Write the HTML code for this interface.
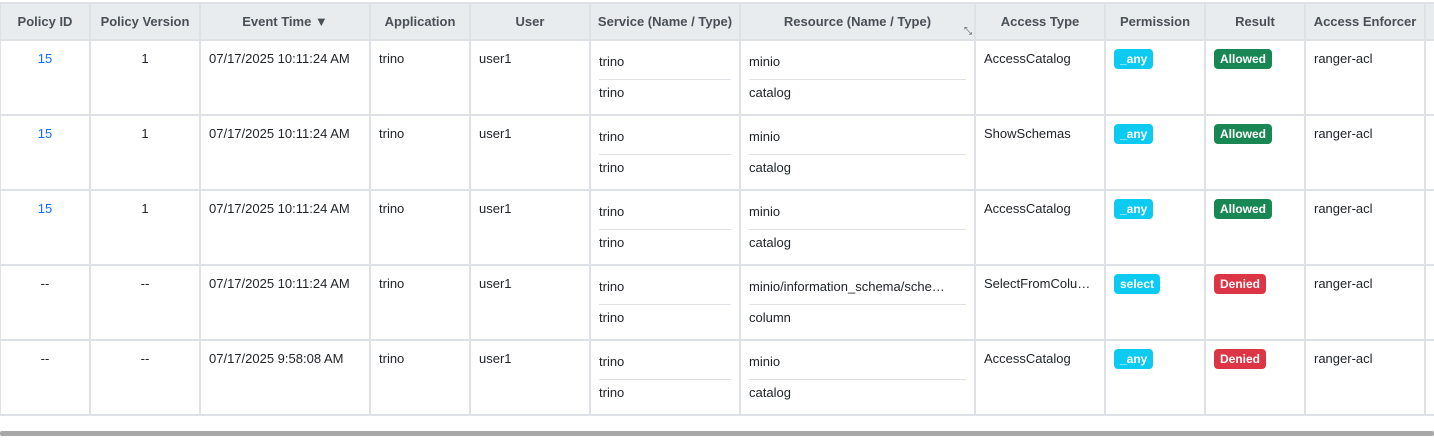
<!DOCTYPE html>
<html><head><meta charset="utf-8"><style>
body{margin:0;width:1434px;height:444px;overflow:hidden;background:#fff;font-family:"Liberation Sans",sans-serif;position:relative}
table{position:absolute;left:-1px;top:2px;border-collapse:collapse;table-layout:fixed;width:1445px}
td,th{border:2px solid #dee2e6;padding:0;vertical-align:top;font-size:13px;color:#212529;overflow:hidden;white-space:nowrap}
th{background:#e9ecef;color:#495057;font-weight:bold;height:35px;vertical-align:middle;text-align:center;position:relative}
tr.r td{height:73px}
td.c{text-align:center}
td .t{padding:10px 8px 0 8px;line-height:16px}
a{color:#0d6efd;text-decoration:none}
.s{padding:0 8px}
.s div{line-height:16px}
.s .a{padding-top:13px;padding-bottom:9px;border-bottom:1px solid #dee2e6;overflow:hidden;text-overflow:ellipsis}
.s .b{padding-top:5px}
.bd{display:inline-block;margin:8px 0 0 8px;padding:2px 6px;border-radius:4px;color:#fff;font-weight:bold;font-size:12px;line-height:16px}
.any{background:#0dcaf0}.al{background:#198754}.de{background:#dc3545}
.sb{position:absolute;left:0;top:431px;width:1434px;height:5px;background:#a8a8a8;border-radius:2px}
</style></head><body>
<table>
<colgroup><col style="width:90px"><col style="width:110px"><col style="width:170px"><col style="width:100px"><col style="width:120px"><col style="width:150px"><col style="width:235px"><col style="width:130px"><col style="width:100px"><col style="width:100px"><col style="width:120px"><col style="width:20px"></colgroup>
<tr><th>Policy ID</th><th>Policy Version</th><th>Event Time ▼</th><th>Application</th><th>User</th><th>Service (Name / Type)</th><th>Resource (Name / Type)<span style="position:absolute;right:2px;bottom:2px;font-size:10px;font-weight:normal">⤡</span></th><th>Access Type</th><th>Permission</th><th>Result</th><th>Access Enforcer</th><th></th></tr>
<tr class="r"><td class="c"><div class="t"><a>15</a></div></td><td class="c"><div class="t">1</div></td><td><div class="t">07/17/2025 10:11:24 AM</div></td><td><div class="t">trino</div></td><td><div class="t">user1</div></td><td><div class="s"><div class="a">trino</div><div class="b">trino</div></div></td><td><div class="s"><div class="a">minio</div><div class="b">catalog</div></div></td><td><div class="t">AccessCatalog</div></td><td><span class="bd any">_any</span></td><td><span class="bd al">Allowed</span></td><td><div class="t">ranger-acl</div></td><td></td></tr>
<tr class="r"><td class="c"><div class="t"><a>15</a></div></td><td class="c"><div class="t">1</div></td><td><div class="t">07/17/2025 10:11:24 AM</div></td><td><div class="t">trino</div></td><td><div class="t">user1</div></td><td><div class="s"><div class="a">trino</div><div class="b">trino</div></div></td><td><div class="s"><div class="a">minio</div><div class="b">catalog</div></div></td><td><div class="t">ShowSchemas</div></td><td><span class="bd any">_any</span></td><td><span class="bd al">Allowed</span></td><td><div class="t">ranger-acl</div></td><td></td></tr>
<tr class="r"><td class="c"><div class="t"><a>15</a></div></td><td class="c"><div class="t">1</div></td><td><div class="t">07/17/2025 10:11:24 AM</div></td><td><div class="t">trino</div></td><td><div class="t">user1</div></td><td><div class="s"><div class="a">trino</div><div class="b">trino</div></div></td><td><div class="s"><div class="a">minio</div><div class="b">catalog</div></div></td><td><div class="t">AccessCatalog</div></td><td><span class="bd any">_any</span></td><td><span class="bd al">Allowed</span></td><td><div class="t">ranger-acl</div></td><td></td></tr>
<tr class="r"><td class="c"><div class="t">--</div></td><td class="c"><div class="t">--</div></td><td><div class="t">07/17/2025 10:11:24 AM</div></td><td><div class="t">trino</div></td><td><div class="t">user1</div></td><td><div class="s"><div class="a">trino</div><div class="b">trino</div></div></td><td><div class="s"><div class="a">minio/information_schema/sche…</div><div class="b">column</div></div></td><td><div class="t">SelectFromColu…</div></td><td><span class="bd any">select</span></td><td><span class="bd de">Denied</span></td><td><div class="t">ranger-acl</div></td><td></td></tr>
<tr class="r"><td class="c"><div class="t">--</div></td><td class="c"><div class="t">--</div></td><td><div class="t">07/17/2025 9:58:08 AM</div></td><td><div class="t">trino</div></td><td><div class="t">user1</div></td><td><div class="s"><div class="a">trino</div><div class="b">trino</div></div></td><td><div class="s"><div class="a">minio</div><div class="b">catalog</div></div></td><td><div class="t">AccessCatalog</div></td><td><span class="bd any">_any</span></td><td><span class="bd de">Denied</span></td><td><div class="t">ranger-acl</div></td><td></td></tr>
</table>
<div class="sb"></div>
</body></html>
